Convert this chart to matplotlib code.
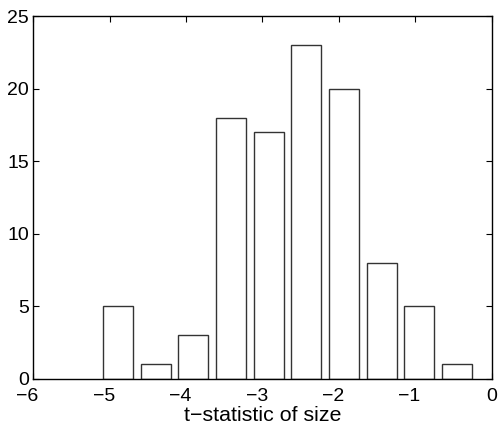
import numpy as np
import matplotlib
matplotlib.use("Agg")
import matplotlib.pyplot as plt
import matplotlib.transforms as mtransforms

plt.rcParams['font.family'] = ['Liberation Sans', 'DejaVu Sans']

bin_centers = [-4.89, -4.397, -3.904, -3.411, -2.918, -2.426, -1.933, -1.44, -0.947, -0.454]
counts = [5, 1, 3, 18, 17, 23, 20, 8, 5, 1]
bin_width = 0.4927
xticks = [-6, -5, -4, -3, -2, -1, 0]
yticks = [0, 5, 10, 15, 20, 25]

fig = plt.figure(figsize=(4.98, 4.28), dpi=100)
ax = fig.add_axes([0.0669, 0.1145, 0.9204, 0.8481])
ax.bar(bin_centers, counts, width=0.8 * bin_width, color='white',
       edgecolor='#333333', linewidth=1.0, zorder=2)
ax.set_xlim(-6, 0)
ax.set_ylim(0, 25)
ax.set_xticks(xticks)
ax.set_yticks(yticks)
ax.set_xticklabels([str(t).replace('-', '\u2212') for t in xticks])
ax.tick_params(direction='in', top=True, right=True, length=4, width=0.8,
               labelsize=14)
ax.tick_params(axis='x', pad=6.4)
ax.tick_params(axis='y', pad=3)
# MATLAB-style: digit centred on the tick, minus sign hanging to the left
for t, lab in zip(xticks, ax.get_xticklabels()):
    if t < 0:
        lab.set_transform(lab.get_transform() +
                          mtransforms.ScaledTranslation(-4.1 / 72, 0, fig.dpi_scale_trans))
for s in ax.spines.values():
    s.set_linewidth(1.0)
    s.set_zorder(3)
ax.set_xlabel('t\u2212statistic of size', fontsize=15.4, labelpad=1)
fig.savefig('out.png', dpi=100)
